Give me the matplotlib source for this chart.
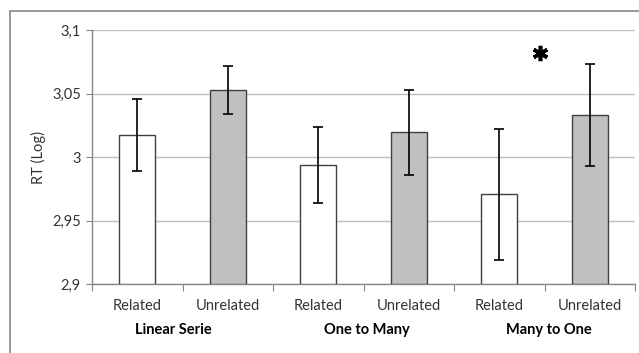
import matplotlib
matplotlib.use("Agg")
import matplotlib.pyplot as plt
from matplotlib.patches import Rectangle
import numpy as np

conditions = ["Related", "Unrelated", "Related", "Unrelated", "Related", "Unrelated"]
groups = ["Linear Serie", "One to Many", "Many to One"]
group_pos = [0.40, 2.54, 4.55]
means = [3.017, 3.053, 2.994, 3.020, 2.971, 3.033]
err_low = [2.989, 3.034, 2.964, 2.986, 2.919, 2.993]
err_high = [3.046, 3.072, 3.024, 3.053, 3.022, 3.073]
yticks = [2.9, 2.95, 3.0, 3.05, 3.1]
ytick_labels = ["2,9", "2,95", "3", "3,05", "3,1"]
colors = ["white", "#c0c0c0"] * 3
star_pos = (4.445, 3.0815)

plt.rcParams['font.family'] = ['Lato', 'DejaVu Sans']

W, H = 639, 353
fig = plt.figure(figsize=(W / 100, H / 100), dpi=100)
fig.patch.set_facecolor("white")

# outer chart frame
fig.patches.append(Rectangle((10 / W, -0.1), 1.2, 1 - 11 / H + 0.1,
                             transform=fig.transFigure, fill=False,
                             edgecolor="#868686", linewidth=1.2))

left, right, top, bottom = 92, 635, 30, 284
ax = fig.add_axes([left / W, 1 - bottom / H, (right - left) / W, (bottom - top) / H])

x = np.arange(len(means))
m = np.array(means)
yerr = np.array([m - np.array(err_low), np.array(err_high) - m])
ax.bar(x, m - 2.9, bottom=2.9, width=0.4, color=colors, edgecolor="#404040",
       linewidth=1.0, zorder=3)
ax.errorbar(x, m, yerr=yerr, fmt="none", ecolor="black", elinewidth=1.2,
            capsize=3.5, capthick=1.2, zorder=4)

ax.set_xlim(-0.5, 5.5)
ax.set_ylim(2.9, 3.1)
ax.set_yticks(yticks)
ax.set_yticklabels(ytick_labels, fontsize=10.5, color="#333333")
ax.yaxis.grid(True, color="#bfbfbf", linewidth=1.0, zorder=0)
ax.set_axisbelow(True)
ax.set_xticks(np.arange(-0.5, 6, 1))
ax.set_xticklabels([])
ax.tick_params(axis="x", direction="out", length=5, color="#868686")
ax.tick_params(axis="y", direction="out", length=4, color="#868686", pad=4)
for s in ["top", "right"]:
    ax.spines[s].set_visible(False)
for s in ["left", "bottom"]:
    ax.spines[s].set_color("#868686")
    ax.spines[s].set_linewidth(1.0)

for i, c in enumerate(conditions):
    ax.text(i, 2.9 - 22 / 1270, c, ha="center", va="center", fontsize=10.5,
            color="#333333")
for p, g in zip(group_pos, groups):
    ax.text(p, 2.9 - 46 / 1270, g, ha="center", va="center", fontsize=10.5,
            fontweight="bold", color="black")

# significance asterisk
ax.plot([star_pos[0]], [star_pos[1]], marker=(6, 2, 0), markersize=11,
        markeredgewidth=2.6, color="black", clip_on=False, zorder=5)

fig.text(38 / W, 1 - 157 / H, "RT (Log)", rotation=90, ha="center", va="center",
         fontsize=10.5, color="#333333")

fig.savefig("out.png", dpi=100, facecolor="white")
